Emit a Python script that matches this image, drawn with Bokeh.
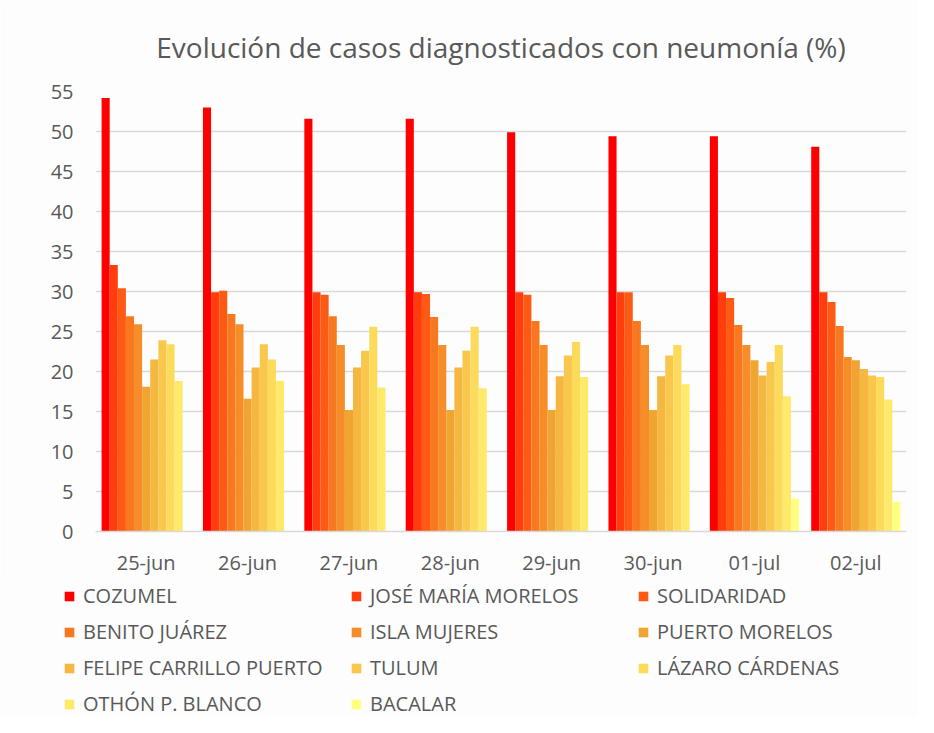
from bokeh.plotting import figure
from bokeh.layouts import column, row
from bokeh.models import FactorRange, Legend, LegendItem, SingleIntervalTicker, Title
from bokeh.transform import dodge
from bokeh.embed import file_html
from bokeh.resources import INLINE

dates = ["25-jun", "26-jun", "27-jun", "28-jun", "29-jun", "30-jun", "01-jul", "02-jul"]

municipios = ["COZUMEL", "JOSÉ MARÍA MORELOS", "SOLIDARIDAD", "BENITO JUÁREZ", "ISLA MUJERES",
              "PUERTO MORELOS", "FELIPE CARRILLO PUERTO", "TULUM", "LÁZARO CÁRDENAS",
              "OTHÓN P. BLANCO", "BACALAR"]

cozumel = [54.2, 53.0, 51.6, 51.6, 49.9, 49.4, 49.4, 48.1]
jose_maria_morelos = [33.3, 29.9, 29.9, 29.9, 29.9, 29.9, 29.9, 29.9]
solidaridad = [30.4, 30.1, 29.6, 29.7, 29.6, 29.9, 29.2, 28.7]
benito_juarez = [26.9, 27.2, 26.9, 26.8, 26.3, 26.3, 25.8, 25.7]
isla_mujeres = [25.9, 25.9, 23.3, 23.3, 23.3, 23.3, 23.3, 21.8]
puerto_morelos = [18.1, 16.6, 15.2, 15.2, 15.2, 15.2, 21.4, 21.4]
felipe_carrillo_puerto = [21.5, 20.5, 20.5, 20.5, 19.4, 19.4, 19.5, 20.3]
tulum = [23.9, 23.4, 22.6, 22.6, 22.0, 22.0, 21.2, 19.5]
lazaro_cardenas = [23.4, 21.5, 25.6, 25.6, 23.7, 23.3, 23.3, 19.3]
othon_p_blanco = [18.8, 18.8, 18.0, 17.9, 19.3, 18.4, 16.9, 16.5]
bacalar = [0, 0, 0, 0, 0, 0, 4.1, 3.7]

series = [cozumel, jose_maria_morelos, solidaridad, benito_juarez, isla_mujeres,
          puerto_morelos, felipe_carrillo_puerto, tulum, lazaro_cardenas,
          othon_p_blanco, bacalar]

colors = ["#FF0000", "#FF3D0D", "#FF5A14", "#F8781F", "#F78D28", "#F0A532",
          "#F6B740", "#F9C74C", "#FCDA5A", "#FFE96A", "#FFFF80"]

FONT = "Open Sans"
TXT = "#595959"
BG = "#FDFDFD"
GRID = "#D9D9D9"

# ---- main chart ----
p = figure(x_range=FactorRange(*dates), y_range=(0, 55), width=918, height=578,
           output_backend="svg", toolbar_location=None,
           min_border_left=95, min_border_right=12, min_border_top=91, min_border_bottom=44)
p.add_layout(Title(text="Evolución de casos diagnosticados con neumonía (%)", align="center",
                   text_font=FONT, text_font_size="28px", text_font_style="normal",
                   text_color=TXT, offset=0, standoff=51), "above")
p.background_fill_color = BG
p.border_fill_color = BG
p.outline_line_color = None

bw = 0.08
data = {"date": dates}
for i, vals in enumerate(series):
    data["s%d" % i] = vals
for i, name in enumerate(municipios):
    p.vbar(x=dodge("date", (i - 5) * bw, range=p.x_range), top="s%d" % i, width=bw,
           source=data, fill_color=colors[i], line_color=None)

p.yaxis.ticker = SingleIntervalTicker(interval=5)
p.ygrid.grid_line_color = GRID
p.ygrid.grid_line_width = 1.5
p.xgrid.grid_line_color = None
for ax in (p.xaxis, p.yaxis):
    ax.major_label_text_font = FONT
    ax.major_label_text_font_size = "20px"
    ax.major_label_text_color = TXT
    ax.major_tick_line_color = None
    ax.minor_tick_line_color = None
    ax.major_tick_out = 0
    ax.major_tick_in = 0
p.yaxis.axis_line_color = None
p.yaxis.major_label_standoff = 18
p.xaxis.axis_line_color = GRID
p.xaxis.axis_line_width = 1.5
p.xaxis.major_label_standoff = 17

# ---- legend strip (legend swatches only; proxy glyphs lie outside its view) ----
lg = figure(width=918, height=139, output_backend="svg", toolbar_location=None,
            x_axis_type=None, y_axis_type=None, min_border=0, min_border_left=0,
            min_border_right=0, min_border_top=0, min_border_bottom=0,
            x_range=(0, 1), y_range=(0, 1))
lg.background_fill_color = BG
lg.border_fill_color = BG
lg.outline_line_color = None
lg.grid.visible = False
items = []
for i, name in enumerate(municipios):
    r = lg.vbar(x=[-5], top=[-5], bottom=[-6], width=0.1, fill_color=colors[i], line_color=None)
    items.append(LegendItem(label=name, renderers=[r]))
legend = Legend(items=items, orientation="horizontal", ncols=3,
                location=(63, 0), label_text_font=FONT, label_text_font_size="20px",
                label_text_color=TXT, glyph_width=12, glyph_height=12, label_width=258,
                label_height=20, label_standoff=8, spacing=9, padding=0, margin=0,
                background_fill_alpha=0, border_line_color=None)
lg.add_layout(legend, "center")

layout = column(p, row(lg), spacing=0)
open("out.html", "w").write(file_html(layout, INLINE))
